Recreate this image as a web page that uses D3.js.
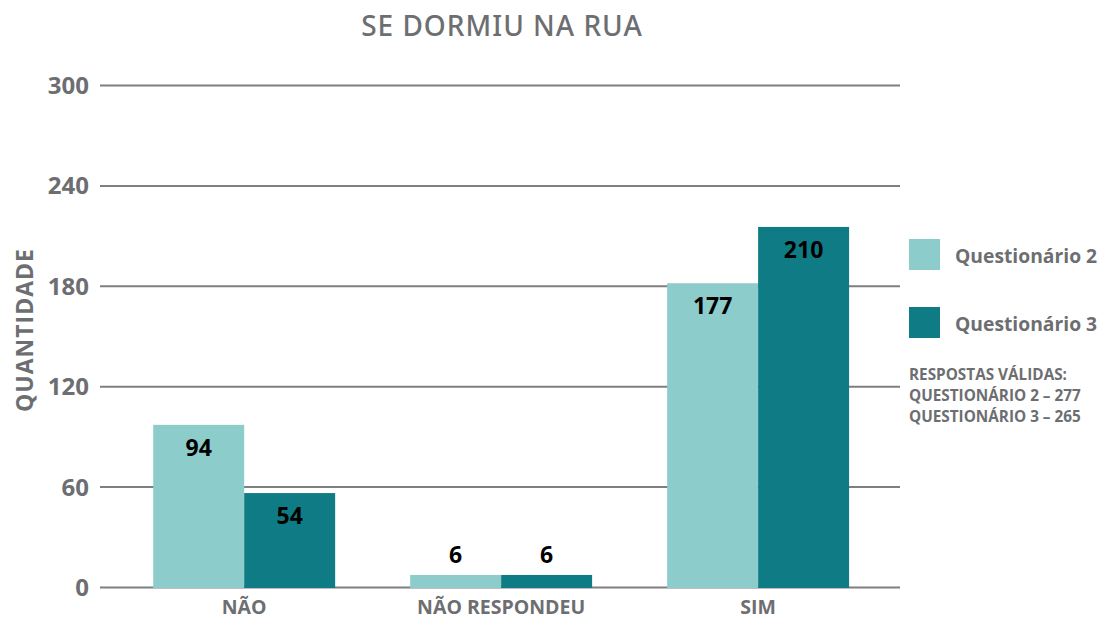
<!DOCTYPE html>
<html>
<head>
<meta charset="utf-8">
<script src="https://cdn.jsdelivr.net/npm/d3@7"></script>
<style>
  body { margin: 0; background: #fff; }
  svg text { font-family: "Open Sans", sans-serif; }
</style>
</head>
<body>
<div class="chart"></div>
<script>
// categories and series
var categories = ["NÃO", "NÃO RESPONDEU", "SIM"];
var seriesNames = ["Questionário 2", "Questionário 3"];
var q2Values = [94, 6, 177];
var q3Values = [54, 6, 210];
var yTicks = [0, 60, 120, 180, 240, 300];
var notes = ["RESPOSTAS VÁLIDAS:", "QUESTIONÁRIO 2 – 277", "QUESTIONÁRIO 3 – 265"];

var colors = ["#8ccccb", "#0f7c85"];
var gray = "#6d6e71";

var width = 1100, height = 619;

var svg = d3.select("div.chart")
    .append("svg")
    .attr("width", width)
    .attr("height", height);

//scales
var x = d3.scaleBand()
    .domain(categories)
    .range([115.7, 886.6])
    .paddingInner(0.292)
    .paddingOuter(0.146);

var xInner = d3.scaleBand()
    .domain(seriesNames)
    .range([0, x.bandwidth()]);

// gridline scale
var y = d3.scaleLinear()
    .domain([0, 300])
    .range([587, 85]);

// bars in the original sit on a slightly stretched scale
var yBar = d3.scaleLinear()
    .domain([0, 300])
    .range([585.2, 73.4]);

//title
svg.append("text")
    .attr("x", 502)
    .attr("y", 36)
    .attr("text-anchor", "middle")
    .style("font-family", "'Noto Sans', sans-serif")
    .style("font-weight", 500)
    .style("font-size", "28px")
    .style("letter-spacing", "1px")
    .attr("fill", gray)
    .text("SE DORMIU NA RUA");

//gridlines + tick labels
var yAxis = d3.axisLeft(y)
    .tickValues(yTicks)
    .tickSize(-800)
    .tickPadding(12);

var gy = svg.append("g")
    .attr("transform", "translate(900,0)")
    .call(yAxis);

gy.select(".domain").remove();
gy.selectAll(".tick line")
    .attr("x1", 0)
    .attr("x2", -800)
    .attr("stroke", "#7f7f7f")
    .attr("stroke-width", 2);
gy.selectAll(".tick text")
    .attr("x", -811)
    .attr("dy", "0.35em")
    .attr("fill", gray)
    .style("font-weight", 700)
    .style("font-size", "24px");

//y axis title
svg.append("text")
    .attr("transform", "translate(33,330) rotate(-90)")
    .attr("text-anchor", "middle")
    .attr("fill", gray)
    .style("font-weight", 700)
    .style("font-size", "23px")
    .style("letter-spacing", "1px")
    .text("QUANTIDADE");

//bars
var rows = categories.map(function(c, i){
    return { cat: c, vals: [q2Values[i], q3Values[i]] };
});

var groups = svg.selectAll(".group")
    .data(rows)
    .enter()
    .append("g")
    .attr("class", "group")
    .attr("transform", function(d){ return "translate(" + x(d.cat) + ",0)"; });

var bars = groups.selectAll("g.bar")
    .data(function(d){
        return d.vals.map(function(v, j){ return { name: seriesNames[j], v: v, j: j }; });
    })
    .enter()
    .append("g")
    .attr("class", "bar");

bars.append("rect")
    .attr("x", function(d){ return xInner(d.name); })
    .attr("width", xInner.bandwidth())
    .attr("y", function(d){ return yBar(d.v); })
    .attr("height", function(d){ return 588 - yBar(d.v); })
    .attr("fill", function(d){ return colors[d.j]; });

//value labels
bars.append("text")
    .attr("x", function(d){ return xInner(d.name) + xInner.bandwidth() / 2; })
    .attr("y", function(d){
        var top = yBar(d.v);
        return (588 - top) < 40 ? top - 12 : top + 31;
    })
    .attr("text-anchor", "middle")
    .attr("fill", "#000")
    .style("font-weight", 700)
    .style("font-size", "23px")
    .text(function(d){ return d.v; });

//category labels
svg.selectAll(".cat")
    .data(categories)
    .enter()
    .append("text")
    .attr("class", "cat")
    .attr("x", function(d){ return x(d) + x.bandwidth() / 2; })
    .attr("y", 614)
    .attr("text-anchor", "middle")
    .attr("fill", gray)
    .style("font-weight", 700)
    .style("font-size", "19.5px")
    .text(function(d){ return d; });

//legend
var legend = svg.selectAll(".legend")
    .data(seriesNames)
    .enter()
    .append("g")
    .attr("class", "legend")
    .attr("transform", function(d, i){ return "translate(909," + (239 + i * 68) + ")"; });

legend.append("rect")
    .attr("width", 31)
    .attr("height", 31)
    .attr("fill", function(d, i){ return colors[i]; });

legend.append("text")
    .attr("x", 46)
    .attr("y", 24)
    .attr("fill", gray)
    .style("font-weight", 700)
    .style("font-size", "19.3px")
    .text(function(d){ return d; });

//notes
svg.selectAll(".note")
    .data(notes)
    .enter()
    .append("text")
    .attr("class", "note")
    .attr("x", 909)
    .attr("y", function(d, i){ return 380 + i * 21; })
    .attr("fill", gray)
    .style("font-weight", 700)
    .style("font-size", "15.3px")
    .text(function(d){ return d; });
</script>
</body>
</html>
